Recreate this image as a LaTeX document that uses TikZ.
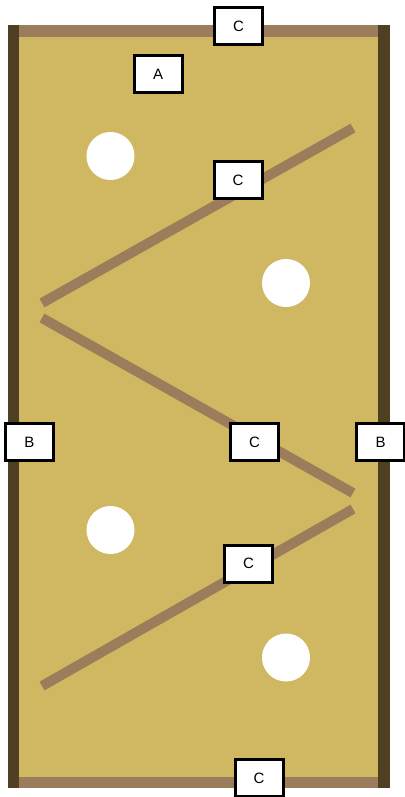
\documentclass[tikz,border=0pt]{standalone}
\usepackage{fontspec}
\setmainfont{Liberation Sans}
\definecolor{boardfill}{RGB}{208,184,98}
\definecolor{wallcol}{RGB}{79,64,35}
\definecolor{slidecol}{RGB}{155,125,92}
\begin{document}
\begin{tikzpicture}[x=1pt,y=-1pt,
  lbl/.style={draw=black,fill=white,line width=3pt,minimum width=48pt,minimum height=37pt,inner sep=0pt,font=\fontsize{15}{17}\selectfont},
  slide/.style={slidecol,line width=10pt,line cap=butt},
  hole/.style={fill=white,draw=none}]
\useasboundingbox (0,0) rectangle (404,797);
% board
\fill[boardfill] (8,25) rectangle (390,788);
\fill[slidecol] (19,25) rectangle (378,37);
\fill[slidecol] (19,777) rectangle (378,788);
\fill[wallcol] (8,25) rectangle (19,788);
\fill[wallcol] (378,25) rectangle (390,788);
% slides
\coordinate (s1a) at (42,303); \coordinate (s1b) at (353,128);
\coordinate (s2a) at (42,318); \coordinate (s2b) at (353,493);
\coordinate (s3a) at (353,509); \coordinate (s3b) at (42,686);
\draw[slide] (s1a) -- (s1b);
\draw[slide] (s2a) -- (s2b);
\draw[slide] (s3a) -- (s3b);
% holes
\fill[hole] (110.5,156) circle (24);
\fill[hole] (286,283) circle (24);
\fill[hole] (110.5,530) circle (24);
\fill[hole] (286,657.5) circle (24);
% labels
\node[lbl] (ctop) at (238.5,26) {C};
\node[lbl] (a) at (158,74) {A};
\node[lbl] (c1) at (238,180) {C};
\node[lbl] (bl) at (29.5,442) {B};
\node[lbl] (c2) at (254.5,442) {C};
\node[lbl] (br) at (380.5,442) {B};
\node[lbl] (c3) at (248.5,563.5) {C};
\node[lbl] (cbot) at (259,778) {C};
\end{tikzpicture}
\end{document}
